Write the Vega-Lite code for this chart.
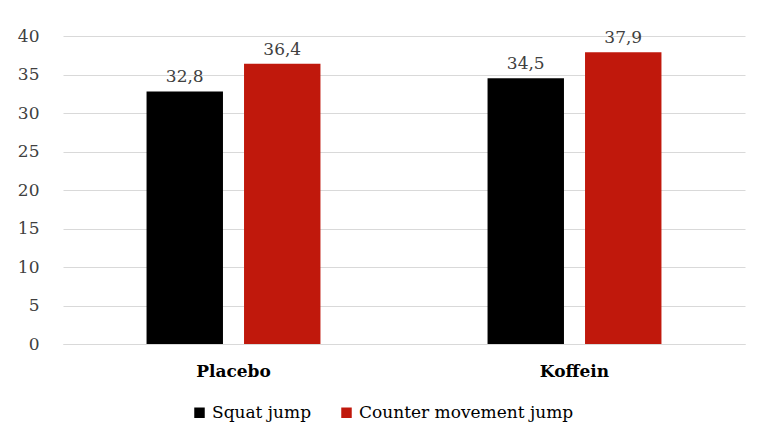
{
  "$schema": "https://vega.github.io/schema/vega-lite/v6.json",
  "autosize": "none",
  "width": 682,
  "height": 308,
  "padding": {"left": 63, "top": 36, "right": 26, "bottom": 100},
  "background": "white",
  "config": {
    "font": "DejaVu Serif",
    "view": {"stroke": null},
    "locale": {
      "number": {"decimal": ",", "thousands": ".", "grouping": [3], "currency": ["", " €"]}
    }
  },
  "data": {
    "values": [
      {"group": "Placebo", "test": "Squat jump", "value": 32.8},
      {"group": "Placebo", "test": "Counter movement jump", "value": 36.4},
      {"group": "Koffein", "test": "Squat jump", "value": 34.5},
      {"group": "Koffein", "test": "Counter movement jump", "value": 37.9}
    ]
  },
  "encoding": {
    "x": {
      "field": "group",
      "type": "nominal",
      "sort": ["Placebo", "Koffein"],
      "scale": {"paddingInner": 0.49, "paddingOuter": 0.245},
      "axis": {
        "title": null,
        "labelAngle": 0,
        "ticks": false,
        "domainColor": "#d9d9d9",
        "labelFont": "DejaVu Serif",
        "labelFontWeight": "bold",
        "labelFontSize": 17,
        "labelColor": "#000000",
        "labelPadding": 19
      }
    },
    "xOffset": {
      "field": "test",
      "type": "nominal",
      "sort": ["Squat jump", "Counter movement jump"],
      "scale": {"paddingInner": 0.216, "paddingOuter": 0}
    },
    "y": {
      "field": "value",
      "type": "quantitative",
      "scale": {"domain": [0, 40]},
      "axis": {
        "title": null,
        "values": [0, 5, 10, 15, 20, 25, 30, 35, 40],
        "domain": false,
        "ticks": false,
        "gridColor": "#d9d9d9",
        "labelFont": "DejaVu Serif",
        "labelFontSize": 17,
        "labelColor": "#404040",
        "labelPadding": 24
      }
    }
  },
  "layer": [
    {
      "mark": {"type": "bar"},
      "encoding": {
        "color": {
          "field": "test",
          "type": "nominal",
          "sort": ["Squat jump", "Counter movement jump"],
          "scale": {
            "domain": ["Squat jump", "Counter movement jump"],
            "range": ["#000000", "#C0180C"]
          },
          "legend": {
            "title": null,
            "orient": "none",
            "legendX": 128,
            "legendY": 368,
            "direction": "horizontal",
            "symbolType": "square",
            "symbolSize": 110,
            "symbolStrokeWidth": 0,
            "labelFont": "DejaVu Serif",
            "labelFontSize": 17,
            "labelLimit": 400,
            "labelColor": "#000000",
            "columnPadding": 26
          }
        }
      }
    },
    {
      "mark": {"type": "text", "baseline": "bottom", "dy": -5, "fontSize": 17, "font": "DejaVu Serif", "color": "#404040"},
      "encoding": {
        "text": {"field": "value", "type": "quantitative", "format": ".1f"}
      }
    }
  ]
}
